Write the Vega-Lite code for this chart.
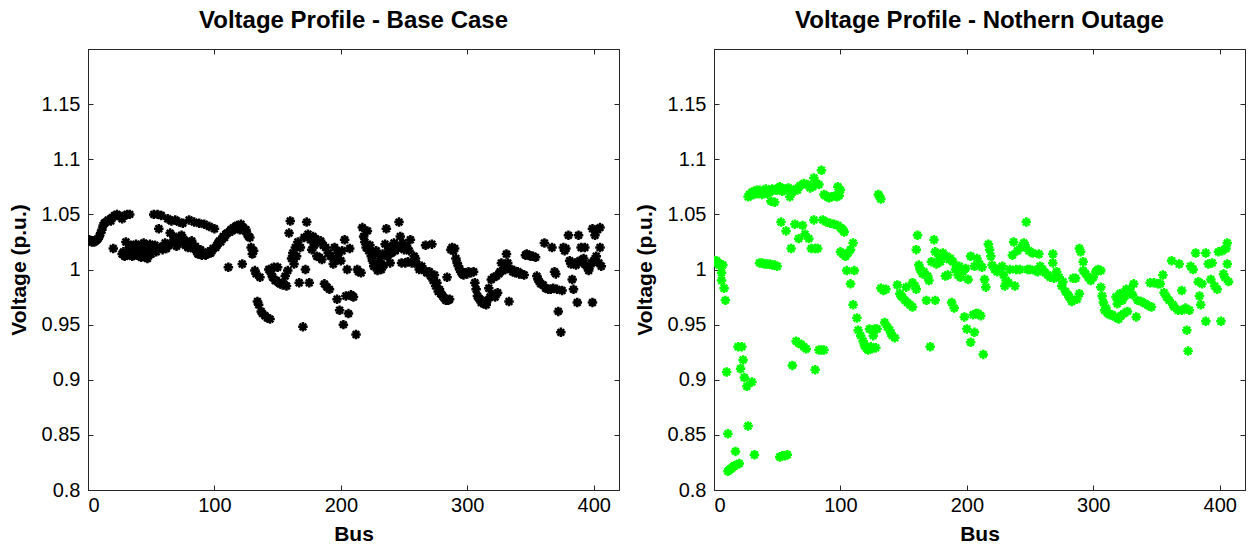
{
  "$schema": "https://vega.github.io/schema/vega-lite/v6.json",
  "background": "white",
  "padding": {"left": 7, "top": 8, "right": 2, "bottom": 2},
  "spacing": 13,
  "config": {
    "font": "Liberation Sans",
    "view": {"stroke": "#262626", "strokeWidth": 1},
    "axis": {"domainColor": "#262626", "tickColor": "#262626", "tickSize": -5, "labelFontSize": 20, "labelColor": "#000", "titleFontSize": 21, "titleFontWeight": "bold", "titleColor": "#000", "grid": false, "labelFont": "Liberation Sans", "titleFont": "Liberation Sans"},
    "title": {"fontSize": 24, "fontWeight": "bold", "font": "Liberation Sans", "color": "#000", "offset": 16}
  },
  "datasets": {
    "base": [
{"bus":1,"v":1.027},{"bus":2,"v":1.026},{"bus":3,"v":1.025},{"bus":4,"v":1.026},{"bus":5,"v":1.025},{"bus":6,"v":1.026},{"bus":7,"v":1.027},{"bus":8,"v":1.028},{"bus":9,"v":1.03},{"bus":10,"v":1.033},
{"bus":11,"v":1.036},{"bus":12,"v":1.04},{"bus":13,"v":1.042},{"bus":14,"v":1.043},{"bus":16,"v":1.045},{"bus":18,"v":1.044},{"bus":19,"v":1.047},{"bus":20,"v":1.019},{"bus":21,"v":1.049},{"bus":23,"v":1.05},{"bus":25,"v":1.048},{"bus":27,"v":1.046},{"bus":29,"v":1.049},{"bus":30,"v":1.025},{"bus":31,"v":1.05},{"bus":33,"v":1.05},
{"bus":27,"v":1.014},{"bus":28,"v":1.016},{"bus":29,"v":1.012},{"bus":31,"v":1.013},{"bus":32,"v":1.018},{"bus":33,"v":1.015},{"bus":34,"v":1.022},{"bus":35,"v":1.012},{"bus":36,"v":1.02},{"bus":37,"v":1.016},{"bus":38,"v":1.023},{"bus":39,"v":1.013},{"bus":40,"v":1.018},{"bus":41,"v":1.021},{"bus":42,"v":1.011},{"bus":43,"v":1.016},{"bus":44,"v":1.024},{"bus":45,"v":1.013},{"bus":46,"v":1.02},{"bus":47,"v":1.01},{"bus":48,"v":1.017},{"bus":49,"v":1.023},{"bus":50,"v":1.014},
{"bus":51,"v":1.019},{"bus":52,"v":1.05},{"bus":53,"v":1.022},{"bus":54,"v":1.016},{"bus":55,"v":1.05},{"bus":56,"v":1.037},{"bus":57,"v":1.02},{"bus":58,"v":1.049},{"bus":59,"v":1.018},{"bus":60,"v":1.021},{"bus":61,"v":1.024},{"bus":62,"v":1.019},{"bus":63,"v":1.046},{"bus":64,"v":1.022},{"bus":65,"v":1.033},{"bus":66,"v":1.044},{"bus":67,"v":1.025},{"bus":68,"v":1.03},{"bus":69,"v":1.045},{"bus":70,"v":1.021},
{"bus":71,"v":1.028},{"bus":72,"v":1.043},{"bus":73,"v":1.024},{"bus":74,"v":1.031},{"bus":75,"v":1.042},{"bus":76,"v":1.027},{"bus":77,"v":1.022},{"bus":78,"v":1.025},{"bus":79,"v":1.02},{"bus":80,"v":1.045},{"bus":81,"v":1.023},{"bus":82,"v":1.026},{"bus":83,"v":1.019},{"bus":84,"v":1.043},{"bus":85,"v":1.021},{"bus":86,"v":1.016},{"bus":87,"v":1.014},{"bus":88,"v":1.042},{"bus":89,"v":1.018},{"bus":90,"v":1.013},
{"bus":91,"v":1.015},{"bus":92,"v":1.041},{"bus":93,"v":1.013},{"bus":94,"v":1.014},{"bus":95,"v":1.016},{"bus":96,"v":1.039},{"bus":97,"v":1.015},{"bus":98,"v":1.017},{"bus":99,"v":1.019},{"bus":100,"v":1.037},{"bus":101,"v":1.02},{"bus":102,"v":1.022},{"bus":103,"v":1.024},{"bus":104,"v":1.026},{"bus":105,"v":1.025},{"bus":106,"v":1.028},{"bus":107,"v":1.03},{"bus":108,"v":1.029},{"bus":109,"v":1.032},{"bus":110,"v":1.033},
{"bus":111,"v":1.002},{"bus":112,"v":1.034},{"bus":113,"v":1.036},{"bus":114,"v":1.035},{"bus":115,"v":1.038},{"bus":116,"v":1.037},{"bus":117,"v":1.039},{"bus":118,"v":1.04},{"bus":119,"v":1.038},{"bus":120,"v":1.036},{"bus":121,"v":1.041},{"bus":122,"v":1.005},{"bus":123,"v":1.038},{"bus":124,"v":1.035},{"bus":125,"v":1.036},{"bus":126,"v":1.032},{"bus":127,"v":1.03},{"bus":128,"v":1.029},{"bus":129,"v":1.02},{"bus":130,"v":1.014},
{"bus":131,"v":1.017},{"bus":132,"v":0.999},{"bus":133,"v":0.996},{"bus":134,"v":0.971},{"bus":135,"v":0.968},{"bus":136,"v":0.993},{"bus":137,"v":0.962},{"bus":138,"v":0.96},{"bus":140,"v":0.958},{"bus":142,"v":0.956},{"bus":143,"v":1.0},{"bus":144,"v":0.955},{"bus":145,"v":0.996},{"bus":146,"v":0.993},{"bus":147,"v":1.002},{"bus":148,"v":0.99},{"bus":149,"v":0.99},{"bus":150,"v":1.002},
{"bus":151,"v":0.988},{"bus":152,"v":0.987},{"bus":154,"v":0.986},{"bus":155,"v":0.987},{"bus":156,"v":0.994},{"bus":157,"v":0.985},{"bus":158,"v":0.999},{"bus":159,"v":1.033},{"bus":160,"v":1.044},{"bus":161,"v":1.01},{"bus":162,"v":1.015},{"bus":163,"v":1.005},{"bus":164,"v":1.02},{"bus":165,"v":1.012},{"bus":166,"v":1.025},{"bus":167,"v":0.988},{"bus":168,"v":1.02},{"bus":170,"v":0.948},
{"bus":171,"v":1.029},{"bus":172,"v":1.0},{"bus":173,"v":1.043},{"bus":174,"v":1.032},{"bus":175,"v":0.988},{"bus":176,"v":1.027},{"bus":177,"v":1.018},{"bus":178,"v":1.03},{"bus":179,"v":1.022},{"bus":180,"v":1.028},{"bus":181,"v":1.012},{"bus":182,"v":1.025},{"bus":183,"v":1.011},{"bus":184,"v":1.026},{"bus":185,"v":1.009},{"bus":186,"v":1.022},{"bus":187,"v":0.987},{"bus":188,"v":1.02},{"bus":189,"v":0.984},{"bus":190,"v":1.015},
{"bus":191,"v":0.982},{"bus":192,"v":1.012},{"bus":194,"v":1.005},{"bus":195,"v":1.02},{"bus":196,"v":1.01},{"bus":197,"v":0.973},{"bus":198,"v":1.015},{"bus":199,"v":0.963},{"bus":200,"v":1.008},{"bus":201,"v":1.017},{"bus":202,"v":0.95},{"bus":203,"v":1.027},{"bus":204,"v":0.976},{"bus":205,"v":1.0},{"bus":206,"v":0.96},{"bus":207,"v":1.019},{"bus":208,"v":0.977},{"bus":209,"v":0.976},{"bus":210,"v":0.975},
{"bus":212,"v":0.941},{"bus":213,"v":1.0},{"bus":214,"v":0.998},{"bus":216,"v":0.997},{"bus":217,"v":1.038},{"bus":218,"v":1.03},{"bus":219,"v":1.025},{"bus":220,"v":1.02},{"bus":221,"v":1.035},{"bus":222,"v":1.017},{"bus":223,"v":1.022},{"bus":224,"v":1.012},{"bus":225,"v":1.008},{"bus":226,"v":1.003},{"bus":227,"v":1.015},{"bus":228,"v":1.017},{"bus":229,"v":0.999},{"bus":230,"v":1.005},
{"bus":231,"v":1.01},{"bus":232,"v":1.0},{"bus":233,"v":1.014},{"bus":234,"v":1.004},{"bus":235,"v":1.023},{"bus":236,"v":1.037},{"bus":237,"v":1.012},{"bus":238,"v":1.018},{"bus":239,"v":1.006},{"bus":240,"v":1.015},{"bus":241,"v":1.02},{"bus":242,"v":1.024},{"bus":243,"v":1.017},{"bus":244,"v":1.022},{"bus":245,"v":1.019},{"bus":246,"v":1.043},{"bus":247,"v":1.03},{"bus":248,"v":1.006},{"bus":249,"v":1.024},{"bus":250,"v":1.018},
{"bus":251,"v":1.006},{"bus":252,"v":1.021},{"bus":253,"v":1.007},{"bus":254,"v":1.017},{"bus":255,"v":1.027},{"bus":256,"v":1.006},{"bus":258,"v":1.012},{"bus":259,"v":1.01},{"bus":260,"v":1.005},{"bus":262,"v":1.0},{"bus":264,"v":1.003},{"bus":266,"v":0.999},{"bus":267,"v":1.022},{"bus":268,"v":0.997},{"bus":270,"v":0.998},
{"bus":271,"v":0.994},{"bus":272,"v":1.023},{"bus":273,"v":0.99},{"bus":274,"v":0.995},{"bus":275,"v":0.985},{"bus":276,"v":0.988},{"bus":277,"v":0.98},{"bus":278,"v":0.982},{"bus":279,"v":0.978},{"bus":280,"v":0.977},{"bus":281,"v":0.975},{"bus":282,"v":0.974},{"bus":283,"v":0.972},{"bus":284,"v":0.993},{"bus":285,"v":0.972},{"bus":286,"v":0.973},{"bus":287,"v":1.018},{"bus":288,"v":1.02},{"bus":289,"v":1.017},{"bus":290,"v":1.019},
{"bus":291,"v":1.01},{"bus":292,"v":1.006},{"bus":293,"v":1.003},{"bus":294,"v":1.0},{"bus":295,"v":0.998},{"bus":296,"v":0.996},{"bus":297,"v":0.995},{"bus":298,"v":0.997},{"bus":300,"v":0.996},{"bus":301,"v":0.998},{"bus":303,"v":0.997},{"bus":305,"v":0.998},{"bus":306,"v":0.988},{"bus":307,"v":0.982},{"bus":308,"v":0.976},{"bus":309,"v":0.974},{"bus":310,"v":0.973},
{"bus":311,"v":0.97},{"bus":312,"v":0.971},{"bus":313,"v":0.969},{"bus":314,"v":0.97},{"bus":315,"v":0.968},{"bus":316,"v":0.972},{"bus":317,"v":0.983},{"bus":318,"v":0.975},{"bus":319,"v":0.991},{"bus":320,"v":0.977},{"bus":321,"v":0.993},{"bus":322,"v":0.975},{"bus":323,"v":0.994},{"bus":324,"v":0.979},{"bus":325,"v":0.996},{"bus":326,"v":0.998},{"bus":327,"v":1.006},{"bus":328,"v":0.999},{"bus":329,"v":1.004},{"bus":330,"v":1.0},
{"bus":331,"v":1.014},{"bus":332,"v":1.006},{"bus":333,"v":0.971},{"bus":335,"v":1.0},{"bus":336,"v":0.998},{"bus":337,"v":0.999},{"bus":338,"v":0.997},{"bus":340,"v":0.998},{"bus":341,"v":0.996},{"bus":343,"v":0.996},{"bus":345,"v":0.995},{"bus":346,"v":1.013},{"bus":347,"v":1.014},{"bus":349,"v":1.013},{"bus":350,"v":1.012},
{"bus":352,"v":1.012},{"bus":354,"v":1.011},{"bus":355,"v":0.994},{"bus":356,"v":0.991},{"bus":357,"v":0.989},{"bus":358,"v":0.987},{"bus":360,"v":0.986},{"bus":361,"v":1.024},{"bus":362,"v":0.983},{"bus":364,"v":0.982},{"bus":366,"v":0.982},{"bus":367,"v":1.02},{"bus":368,"v":0.983},{"bus":369,"v":0.998},{"bus":370,"v":0.996},
{"bus":371,"v":0.982},{"bus":372,"v":0.962},{"bus":374,"v":0.943},{"bus":375,"v":0.981},{"bus":376,"v":1.02},{"bus":377,"v":1.017},{"bus":378,"v":1.019},{"bus":380,"v":1.031},{"bus":381,"v":1.008},{"bus":382,"v":1.005},{"bus":383,"v":0.991},{"bus":384,"v":0.982},{"bus":385,"v":1.006},{"bus":386,"v":1.004},{"bus":387,"v":0.97},{"bus":388,"v":1.031},{"bus":389,"v":1.008},{"bus":390,"v":1.02},
{"bus":391,"v":1.006},{"bus":392,"v":1.01},{"bus":393,"v":1.02},{"bus":394,"v":1.004},{"bus":395,"v":1.002},{"bus":396,"v":0.999},{"bus":397,"v":1.003},{"bus":398,"v":1.006},{"bus":399,"v":0.97},{"bus":399,"v":1.037},{"bus":400,"v":1.008},{"bus":401,"v":1.031},{"bus":402,"v":1.012},{"bus":403,"v":1.036},{"bus":404,"v":1.006},{"bus":405,"v":1.02},{"bus":405,"v":1.038},{"bus":406,"v":1.003}
    ],
    "outage": [
{"bus":0,"v":1.008},{"bus":1,"v":1.007},{"bus":2,"v":1.008},{"bus":3,"v":1.006},{"bus":4,"v":1.004},{"bus":5,"v":1.005},{"bus":6,"v":0.997},{"bus":6,"v":0.99},{"bus":7,"v":1.004},{"bus":8,"v":0.983},{"bus":9,"v":0.972},{"bus":10,"v":0.907},{"bus":11,"v":0.851},{"bus":11,"v":0.817},{"bus":12,"v":0.818},{"bus":13,"v":0.819},{"bus":14,"v":0.82},{"bus":15,"v":0.821},{"bus":16,"v":0.822},{"bus":17,"v":0.835},{"bus":18,"v":0.823},{"bus":19,"v":0.93},{"bus":20,"v":0.824},
{"bus":21,"v":0.91},{"bus":22,"v":0.93},{"bus":23,"v":0.918},{"bus":24,"v":0.902},{"bus":26,"v":0.894},{"bus":27,"v":0.858},{"bus":27,"v":1.066},{"bus":28,"v":1.068},{"bus":29,"v":1.067},{"bus":30,"v":0.898},{"bus":30,"v":1.07},{"bus":31,"v":1.068},{"bus":32,"v":0.832},{"bus":32,"v":1.071},{"bus":33,"v":1.069},{"bus":34,"v":1.072},{"bus":35,"v":1.069},{"bus":36,"v":1.006},{"bus":36,"v":1.072},{"bus":37,"v":1.07},{"bus":38,"v":1.006},{"bus":38,"v":1.068},{"bus":39,"v":1.071},{"bus":40,"v":1.005},{"bus":40,"v":1.07},
{"bus":41,"v":1.073},{"bus":42,"v":1.005},{"bus":42,"v":1.069},{"bus":43,"v":1.071},{"bus":44,"v":1.005},{"bus":44,"v":1.07},{"bus":45,"v":1.062},{"bus":46,"v":1.004},{"bus":46,"v":1.073},{"bus":47,"v":1.072},{"bus":48,"v":1.004},{"bus":48,"v":1.061},{"bus":49,"v":1.072},{"bus":50,"v":1.003},{"bus":50,"v":1.072},{"bus":51,"v":1.074},{"bus":52,"v":0.83},{"bus":52,"v":1.075},{"bus":53,"v":1.043},{"bus":54,"v":0.831},{"bus":54,"v":1.071},{"bus":55,"v":1.073},{"bus":56,"v":0.831},{"bus":57,"v":1.035},{"bus":57,"v":1.073},{"bus":58,"v":0.832},{"bus":59,"v":1.074},{"bus":60,"v":1.066},
{"bus":61,"v":1.019},{"bus":62,"v":1.07},{"bus":62,"v":0.913},{"bus":64,"v":1.041},{"bus":65,"v":1.073},{"bus":65,"v":0.935},{"bus":66,"v":1.072},{"bus":67,"v":1.028},{"bus":67,"v":0.933},{"bus":68,"v":1.076},{"bus":69,"v":0.932},{"bus":70,"v":1.04},{"bus":71,"v":1.078},{"bus":71,"v":0.93},{"bus":72,"v":1.032},{"bus":73,"v":0.928},{"bus":74,"v":1.077},{"bus":75,"v":1.028},{"bus":76,"v":1.074},{"bus":77,"v":1.019},{"bus":78,"v":1.075},{"bus":79,"v":1.083},{"bus":79,"v":1.045},{"bus":80,"v":1.019},{"bus":80,"v":0.909},
{"bus":81,"v":1.078},{"bus":82,"v":1.019},{"bus":83,"v":1.077},{"bus":83,"v":0.927},{"bus":85,"v":1.09},{"bus":85,"v":0.927},{"bus":86,"v":1.045},{"bus":87,"v":0.927},{"bus":87,"v":1.068},{"bus":88,"v":1.067},{"bus":89,"v":1.043},{"bus":90,"v":1.066},{"bus":91,"v":1.065},{"bus":92,"v":1.042},{"bus":93,"v":1.066},{"bus":95,"v":1.041},{"bus":96,"v":1.067},{"bus":97,"v":1.066},{"bus":98,"v":1.075},{"bus":98,"v":1.04},{"bus":99,"v":1.067},{"bus":100,"v":1.072},{"bus":100,"v":1.038},
{"bus":101,"v":1.037},{"bus":102,"v":1.036},{"bus":103,"v":1.034},{"bus":100,"v":1.016},{"bus":102,"v":1.014},{"bus":104,"v":1.012},{"bus":105,"v":0.999},{"bus":106,"v":1.015},{"bus":108,"v":1.018},{"bus":108,"v":0.987},{"bus":110,"v":1.024},{"bus":110,"v":0.968},{"bus":111,"v":0.999},{"bus":113,"v":0.956},{"bus":114,"v":0.945},{"bus":116,"v":0.94},{"bus":118,"v":0.935},{"bus":119,"v":0.931},{"bus":120,"v":0.93},
{"bus":121,"v":0.928},{"bus":122,"v":0.927},{"bus":123,"v":0.946},{"bus":124,"v":0.93},{"bus":125,"v":0.928},{"bus":126,"v":0.94},{"bus":127,"v":0.946},{"bus":128,"v":0.929},{"bus":129,"v":0.946},{"bus":130,"v":1.068},{"bus":131,"v":1.066},{"bus":132,"v":1.064},{"bus":132,"v":0.983},{"bus":134,"v":0.981},{"bus":135,"v":0.952},{"bus":136,"v":0.982},{"bus":137,"v":0.948},{"bus":139,"v":0.945},{"bus":140,"v":0.942},
{"bus":141,"v":0.94},{"bus":143,"v":0.938},{"bus":145,"v":0.986},{"bus":147,"v":0.978},{"bus":148,"v":0.976},{"bus":149,"v":0.975},{"bus":151,"v":0.972},{"bus":152,"v":0.984},{"bus":153,"v":0.97},{"bus":155,"v":0.968},{"bus":157,"v":0.966},{"bus":157,"v":0.988},{"bus":159,"v":0.985},{"bus":160,"v":0.982},{"bus":160,"v":1.018},
{"bus":161,"v":1.031},{"bus":162,"v":1.004},{"bus":163,"v":1.0},{"bus":165,"v":0.996},{"bus":166,"v":0.998},{"bus":168,"v":0.972},{"bus":169,"v":0.994},{"bus":170,"v":0.99},{"bus":171,"v":0.93},{"bus":172,"v":1.007},{"bus":174,"v":1.027},{"bus":175,"v":1.016},{"bus":175,"v":0.972},{"bus":176,"v":1.005},{"bus":178,"v":1.012},{"bus":179,"v":1.007},
{"bus":181,"v":1.015},{"bus":183,"v":0.994},{"bus":184,"v":1.012},{"bus":185,"v":0.995},{"bus":186,"v":1.009},{"bus":187,"v":1.01},{"bus":188,"v":0.97},{"bus":189,"v":1.007},{"bus":190,"v":0.965},{"bus":191,"v":1.0},{"bus":193,"v":0.995},{"bus":194,"v":1.003},{"bus":195,"v":0.993},{"bus":197,"v":0.998},{"bus":198,"v":0.957},{"bus":199,"v":1.001},{"bus":200,"v":0.946},
{"bus":201,"v":0.991},{"bus":203,"v":0.934},{"bus":203,"v":1.012},{"bus":205,"v":0.959},{"bus":206,"v":1.003},{"bus":206,"v":0.943},{"bus":207,"v":0.96},{"bus":208,"v":1.01},{"bus":209,"v":0.96},{"bus":210,"v":1.005},{"bus":211,"v":0.958},{"bus":212,"v":1.002},{"bus":213,"v":0.923},{"bus":214,"v":0.991},{"bus":215,"v":0.984},{"bus":217,"v":1.023},{"bus":218,"v":1.018},{"bus":219,"v":1.012},{"bus":220,"v":1.004},
{"bus":222,"v":1.0},{"bus":224,"v":0.998},{"bus":226,"v":1.001},{"bus":228,"v":1.003},{"bus":229,"v":0.995},{"bus":230,"v":0.985},{"bus":231,"v":0.99},{"bus":233,"v":0.988},{"bus":234,"v":1.0},{"bus":236,"v":1.013},{"bus":237,"v":1.025},{"bus":238,"v":0.985},{"bus":239,"v":1.0},{"bus":240,"v":1.017},
{"bus":242,"v":1.0},{"bus":243,"v":1.02},{"bus":245,"v":1.024},{"bus":246,"v":1.022},{"bus":247,"v":1.043},{"bus":248,"v":1.0},{"bus":249,"v":1.017},{"bus":250,"v":1.0},{"bus":252,"v":1.015},{"bus":254,"v":0.999},{"bus":256,"v":0.998},{"bus":257,"v":1.014},{"bus":258,"v":1.003},{"bus":260,"v":1.0},
{"bus":262,"v":0.997},{"bus":264,"v":0.995},{"bus":266,"v":0.993},{"bus":268,"v":1.014},{"bus":268,"v":1.006},{"bus":269,"v":0.992},{"bus":271,"v":0.998},{"bus":273,"v":0.993},{"bus":275,"v":0.985},{"bus":276,"v":0.989},{"bus":278,"v":0.98},{"bus":280,"v":0.977},
{"bus":281,"v":0.975},{"bus":283,"v":0.971},{"bus":284,"v":0.992},{"bus":286,"v":0.992},{"bus":287,"v":0.973},{"bus":289,"v":0.978},{"bus":289,"v":1.019},{"bus":290,"v":1.016},{"bus":292,"v":1.007},{"bus":292,"v":0.999},{"bus":294,"v":0.996},{"bus":296,"v":0.993},{"bus":298,"v":0.99},{"bus":300,"v":0.993},
{"bus":302,"v":0.998},{"bus":303,"v":0.999},{"bus":304,"v":1.0},{"bus":306,"v":0.999},{"bus":306,"v":0.984},{"bus":307,"v":0.976},{"bus":308,"v":0.97},{"bus":309,"v":0.963},{"bus":310,"v":0.965},{"bus":311,"v":0.961},{"bus":312,"v":0.96},{"bus":313,"v":0.959},{"bus":315,"v":0.959},{"bus":317,"v":0.957},{"bus":318,"v":0.975},{"bus":319,"v":0.969},{"bus":320,"v":0.955},
{"bus":321,"v":0.978},{"bus":322,"v":0.958},{"bus":323,"v":0.972},{"bus":324,"v":0.96},{"bus":325,"v":0.976},{"bus":326,"v":0.982},{"bus":327,"v":0.962},{"bus":328,"v":0.98},{"bus":329,"v":0.982},{"bus":331,"v":0.977},{"bus":332,"v":0.987},{"bus":334,"v":0.957},{"bus":335,"v":0.972},{"bus":338,"v":0.971},
{"bus":341,"v":0.969},{"bus":344,"v":0.967},{"bus":345,"v":0.988},{"bus":346,"v":0.966},{"bus":348,"v":0.988},{"bus":351,"v":0.987},{"bus":353,"v":0.987},{"bus":355,"v":0.995},{"bus":356,"v":0.979},{"bus":358,"v":0.975},{"bus":360,"v":0.972},
{"bus":362,"v":1.008},{"bus":363,"v":0.968},{"bus":364,"v":0.966},{"bus":367,"v":0.963},{"bus":368,"v":1.005},{"bus":370,"v":0.963},{"bus":370,"v":0.981},{"bus":373,"v":0.965},{"bus":374,"v":0.945},{"bus":375,"v":0.926},{"bus":376,"v":0.963},{"bus":377,"v":1.003},{"bus":379,"v":1.0},
{"bus":381,"v":1.015},{"bus":383,"v":0.989},{"bus":384,"v":0.976},{"bus":385,"v":0.968},{"bus":386,"v":0.987},{"bus":389,"v":0.953},{"bus":389,"v":1.015},{"bus":391,"v":1.005},{"bus":393,"v":0.991},{"bus":394,"v":1.006},{"bus":396,"v":0.985},{"bus":398,"v":0.982},{"bus":399,"v":1.016},
{"bus":401,"v":0.953},{"bus":402,"v":1.017},{"bus":403,"v":0.996},{"bus":404,"v":0.993},{"bus":405,"v":1.019},{"bus":406,"v":1.024},{"bus":406,"v":1.005},{"bus":407,"v":0.989}
    ]
  },
  "hconcat": [
    {
      "width": 531, "height": 441,
      "title": {"text": "Voltage Profile - Base Case"},
      "data": {"name": "base"},
      "layer": [
        {
          "mark": {"type": "point", "shape": "M-1,0L1,0M0,-1L0,1M-0.7,-0.7L0.7,0.7M-0.7,0.7L0.7,-0.7", "filled": false, "stroke": "#000000", "strokeWidth": 2.5, "size": 90, "opacity": 1, "clip": true},
          "encoding": {
            "x": {"field": "bus", "type": "quantitative", "scale": {"domain": [0, 420], "nice": false, "zero": false}, "axis": {"title": "Bus", "values": [0, 100, 200, 300, 400], "labelPadding": 10, "titlePadding": 8}},
            "y": {"field": "v", "type": "quantitative", "scale": {"domain": [0.8, 1.2], "nice": false, "zero": false}, "axis": {"title": "Voltage (p.u.)", "values": [0.8, 0.85, 0.9, 0.95, 1, 1.05, 1.1, 1.15], "format": "~g", "labelPadding": 13, "titlePadding": 12}}
          }
        },
        {
          "mark": {"type": "point", "opacity": 0},
          "encoding": {
            "x": {"field": "bus", "type": "quantitative", "scale": {"domain": [0, 420], "nice": false, "zero": false}, "axis": {"orient": "top", "title": null, "labels": false, "values": [0, 100, 200, 300, 400]}},
            "y": {"field": "v", "type": "quantitative", "scale": {"domain": [0.8, 1.2], "nice": false, "zero": false}, "axis": {"orient": "right", "title": null, "labels": false, "values": [0.8, 0.85, 0.9, 0.95, 1, 1.05, 1.1, 1.15]}}
          }
        }
      ],
      "resolve": {"axis": {"x": "independent", "y": "independent"}}
    },
    {
      "width": 531, "height": 441,
      "title": {"text": "Voltage Profile - Nothern Outage"},
      "data": {"name": "outage"},
      "layer": [
        {
          "mark": {"type": "point", "shape": "M-1,0L1,0M0,-1L0,1M-0.7,-0.7L0.7,0.7M-0.7,0.7L0.7,-0.7", "filled": false, "stroke": "#00FF00", "strokeWidth": 2.5, "size": 90, "opacity": 1, "clip": true},
          "encoding": {
            "x": {"field": "bus", "type": "quantitative", "scale": {"domain": [0, 420], "nice": false, "zero": false}, "axis": {"title": "Bus", "values": [0, 100, 200, 300, 400], "labelPadding": 10, "titlePadding": 8}},
            "y": {"field": "v", "type": "quantitative", "scale": {"domain": [0.8, 1.2], "nice": false, "zero": false}, "axis": {"title": "Voltage (p.u.)", "values": [0.8, 0.85, 0.9, 0.95, 1, 1.05, 1.1, 1.15], "format": "~g", "labelPadding": 13, "titlePadding": 12}}
          }
        },
        {
          "mark": {"type": "point", "opacity": 0},
          "encoding": {
            "x": {"field": "bus", "type": "quantitative", "scale": {"domain": [0, 420], "nice": false, "zero": false}, "axis": {"orient": "top", "title": null, "labels": false, "values": [0, 100, 200, 300, 400]}},
            "y": {"field": "v", "type": "quantitative", "scale": {"domain": [0.8, 1.2], "nice": false, "zero": false}, "axis": {"orient": "right", "title": null, "labels": false, "values": [0.8, 0.85, 0.9, 0.95, 1, 1.05, 1.1, 1.15]}}
          }
        }
      ],
      "resolve": {"axis": {"x": "independent", "y": "independent"}}
    }
  ]
}
